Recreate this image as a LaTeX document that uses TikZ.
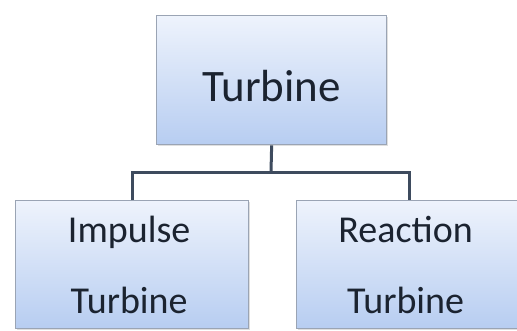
\documentclass[tikz,border=0pt]{standalone}
\usepackage{fontspec}
\setmainfont{Carlito}
\usetikzlibrary{calc,shadows}
\definecolor{boxtop}{HTML}{EEF3FC}
\definecolor{boxbot}{HTML}{B7CDF1}
\definecolor{boxline}{HTML}{9AA4B4}
\definecolor{connc}{HTML}{3E4B5E}
\definecolor{txtc}{HTML}{1B2330}
\tikzset{
 box/.style={draw=boxline, line width=1.3pt, top color=boxtop, bottom color=boxbot,
   anchor=north west, inner sep=0pt,
   drop shadow={opacity=0.25, shadow xshift=1.5pt, shadow yshift=-1.5pt}},
 connector/.style={draw=connc, line width=3pt},
 lbl/.style={text=txtc, anchor=base, inner sep=0pt},
 bigfont/.style={font=\fontsize{45}{54}\selectfont},
 smallfont/.style={font=\fontsize{38}{46}\selectfont},
}
\begin{document}
\begin{tikzpicture}[x=1pt,y=-1pt]
\useasboundingbox[fill=white] (0,0) rectangle (517,330);
\node[box, minimum width=230pt, minimum height=129pt] (top) at (156,15) {};
\node[box, minimum width=233pt, minimum height=128pt] (left) at (15,200) {};
\node[box, minimum width=226pt, minimum height=128pt] (right) at (296,200) {};
\coordinate (j) at (271,172);
\draw[connector] (top.south) -- (j);
\draw[connector] (left.north) |- (j) -| (right.north);
\node[lbl, bigfont] (t0) at ($(top.north)+(0,86)$) {Turbine};
\node[lbl, smallfont] (t1) at ($(left.north)+(-3,42)$) {Impulse};
\node[lbl, smallfont] (t2) at ($(left.north)+(-3,113)$) {Turbine};
\node[lbl, smallfont] (t3) at ($(right.north)+(-4,42)$) {Reaction};
\node[lbl, smallfont] (t4) at ($(right.north)+(-4,113)$) {Turbine};
\end{tikzpicture}
\end{document}
